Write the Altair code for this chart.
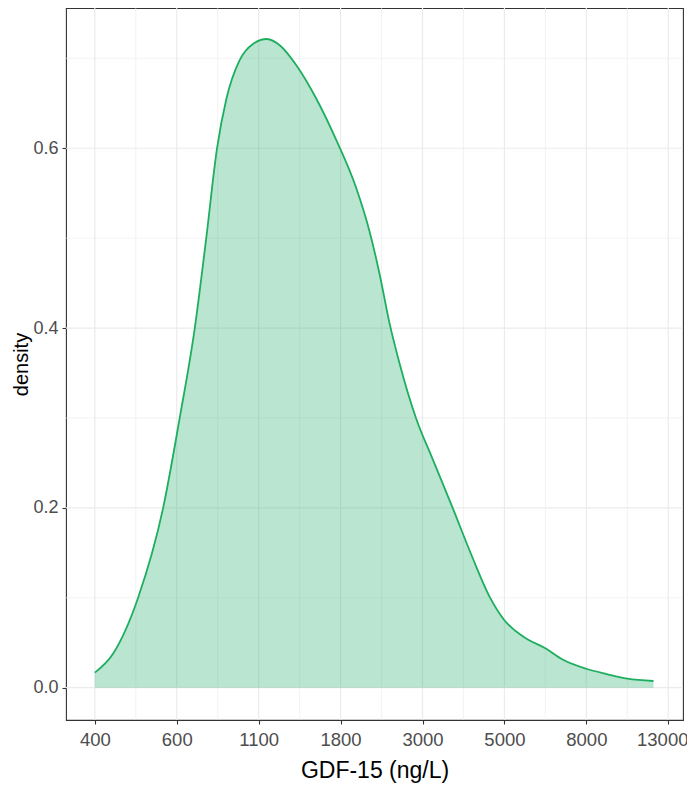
import altair as alt
import pandas as pd

# density curve (x = natural log of GDF-15, ng/L)
log_gdf15 = [6.0, 6.112, 6.264, 6.417, 6.518, 6.61, 6.68, 6.746, 6.803, 6.884,
             6.965, 7.05, 7.132, 7.231, 7.352, 7.474, 7.595, 7.676, 7.737, 7.798,
             7.858, 7.96, 8.06, 8.184, 8.3, 8.41, 8.5, 8.616, 8.75,
             8.858, 9.0, 9.124, 9.25, 9.41]
density = [0.0167, 0.038, 0.10, 0.20, 0.30, 0.40, 0.50, 0.60, 0.655, 0.698,
           0.716, 0.7215, 0.714, 0.692, 0.655, 0.609, 0.556, 0.508, 0.461, 0.406,
           0.362, 0.30, 0.255, 0.20, 0.147, 0.101, 0.075, 0.0566, 0.0438,
           0.031, 0.021, 0.0151, 0.0099, 0.0074]

x_ticks = [6.0, 6.5, 7.0, 7.5, 8.0, 8.5, 9.0, 9.5]
x_labels = ["400", "600", "1100", "1800", "3000", "5000", "8000", "13000"]
x_minor = [6.25, 6.75, 7.25, 7.75, 8.25, 8.75, 9.25]
y_ticks = [0.0, 0.2, 0.4, 0.6]
y_minor = [0.1, 0.3, 0.5, 0.7]

x_dom = [5.824, 9.59]
y_dom = [-0.036, 0.756]

df = pd.DataFrame({"x": log_gdf15, "density": density, "zero": [0.0] * len(density)})
gx_major = pd.DataFrame({"x": x_ticks})
gx_minor = pd.DataFrame({"x": x_minor})
gy_major = pd.DataFrame({"density": y_ticks})
gy_minor = pd.DataFrame({"density": y_minor})

FONT = "Liberation Sans"
GRID = "#EBEBEB"

xs = alt.Scale(domain=x_dom, nice=False, zero=False)
ys = alt.Scale(domain=y_dom, nice=False, zero=False)

label_expr = "[" + ",".join(f"'{l}'" for l in x_labels) + "][round((datum.value - 6) * 2)]"

x_axis = alt.Axis(values=x_ticks, labelExpr=label_expr, title="GDF-15 (ng/L)",
                  grid=False, domain=False, tickColor="#333333", tickWidth=1.1,
                  tickSize=4, labelColor="#4D4D4D", labelFont=FONT, labelFontSize=18.5,
                  labelOffset={"condition": {"test": "datum.value > 9.4", "value": -6}, "value": 0},
                  labelPadding=6, titleFont=FONT, titleFontSize=23, titleFontWeight="normal",
                  titleColor="#000000", titlePadding=11)
y_axis = alt.Axis(values=y_ticks, format=".1f", title="density",
                  grid=False, domain=False, tickColor="#333333", tickWidth=1.1,
                  tickSize=4, labelColor="#4D4D4D", labelFont=FONT, labelFontSize=18,
                  labelPadding=4, titleFont=FONT, titleFontSize=20, titleFontWeight="normal",
                  titleColor="#000000", titleBaseline="middle", titleX=-45)

X = alt.X("x:Q", scale=xs, axis=x_axis)
Y = alt.Y("density:Q", scale=ys, axis=y_axis)

vmin = alt.Chart(gx_minor).mark_rule(color=GRID, strokeWidth=0.6).encode(x=X)
vmaj = alt.Chart(gx_major).mark_rule(color=GRID, strokeWidth=1.2).encode(x=X)
hmin = alt.Chart(gy_minor).mark_rule(color=GRID, strokeWidth=0.6).encode(y=Y)
hmaj = alt.Chart(gy_major).mark_rule(color=GRID, strokeWidth=1.2).encode(y=Y)

area = alt.Chart(df).mark_area(
    color="#1BA862", opacity=0.3, line=False, interpolate="monotone"
).encode(x=X, y=Y, y2="zero:Q")

line = alt.Chart(df).mark_line(
    color="#1DAE5F", strokeWidth=1.8, interpolate="monotone"
).encode(x=X, y=Y)

chart = alt.layer(vmin, vmaj, hmin, hmaj, area, line).properties(
    width=617, height=712,
    autosize=alt.AutoSizeParams(type="none"),
    padding={"left": 58, "top": 0, "right": 4, "bottom": 76},
).configure_view(stroke="#333333", strokeWidth=1.1)

chart.save("out.html", embed_options={"renderer": "svg", "actions": False})
